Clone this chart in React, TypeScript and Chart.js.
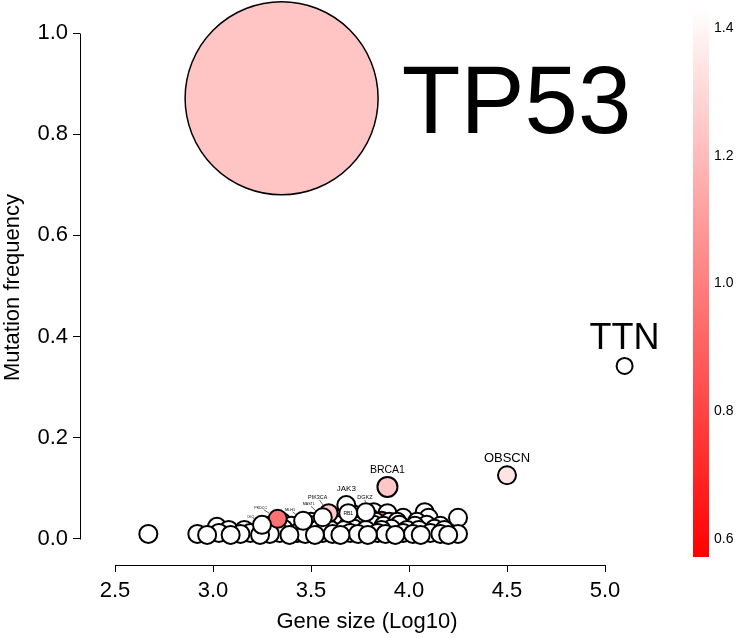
import React, { useEffect, useRef } from "react";
import { Chart, registerables } from "chart.js";

Chart.register(...registerables);

const FONT = "'Liberation Sans', Arial, Helvetica, sans-serif";

// ---- axes / colour scale ----
const xTicks = [2.5, 3.0, 3.5, 4.0, 4.5, 5.0];
const yTicks = [0.0, 0.2, 0.4, 0.6, 0.8, 1.0];
const xLimits = [2.3214, 5.25];
const yLimits = [-0.0514, 1.0455];
const colorTicks = [0.6, 0.8, 1.0, 1.2, 1.4];
const colorRange = [0.57, 1.43];

// ---- labelled genes ----
const labelledGenes = ["TP53", "TTN", "OBSCN", "BRCA1", "JAK3", "RB1", "DGKZ", "PIK3CA", "MASTL", "MLH1", "PKDCC", "DKC1"];
const labelledGeneSize = [3.35, 5.1, 4.5, 3.89, 3.68, 3.69, 3.78, 3.59, 3.56, 3.46, 3.33, 3.25];
const labelledMutFreq = [0.871, 0.342, 0.126, 0.103, 0.067, 0.051, 0.053, 0.051, 0.043, 0.036, 0.04, 0.028];
const labelledColorValue = [1.23, 1.43, 1.34, 1.24, 1.43, 1.43, 1.43, 1.24, 1.43, 1.43, 0.95, 1.43];

// ---- unlabelled genes ----
const otherGeneSize = [
  2.67, 2.92, 2.97, 3.03, 3.09, 3.14, 3.19, 3.24, 3.29, 3.34, 3.39, 3.43, 3.47, 3.52, 3.56,
  3.61, 3.65, 3.70, 3.74, 3.79, 3.84, 3.88, 3.93, 3.97, 4.02, 4.06, 4.11, 4.16, 4.20, 4.25,
  3.02, 3.08, 3.16, 3.30, 3.36, 3.45, 3.54, 3.60, 3.67, 3.72, 3.78, 3.86, 3.91, 3.99, 4.05, 4.13, 4.18,
  3.27, 3.31, 3.40, 3.49, 3.58, 3.63, 3.69, 3.74, 3.82, 3.87, 3.95, 4.03, 4.09, 4.16,
  3.35, 3.50, 3.55, 3.66, 3.76, 3.83, 3.86, 3.90, 3.94, 4.04,
  3.62, 3.73, 3.80, 3.97, 4.10, 4.25,
  3.71, 3.82, 3.89, 4.08,
];
const otherMutFreq = [
  0.010, 0.010, 0.008, 0.012, 0.008, 0.010, 0.012, 0.008, 0.010, 0.012, 0.008, 0.012, 0.010, 0.008, 0.012,
  0.010, 0.008, 0.012, 0.010, 0.008, 0.012, 0.010, 0.008, 0.012, 0.010, 0.008, 0.012, 0.010, 0.008, 0.010,
  0.024, 0.018, 0.018, 0.018, 0.020, 0.018, 0.020, 0.018, 0.018, 0.020, 0.018, 0.018, 0.020, 0.018, 0.018, 0.020, 0.018,
  0.026, 0.028, 0.026, 0.028, 0.026, 0.028, 0.026, 0.026, 0.028, 0.026, 0.028, 0.026, 0.028, 0.026,
  0.034, 0.034, 0.034, 0.034, 0.034, 0.034, 0.036, 0.034, 0.034, 0.034,
  0.042, 0.042, 0.042, 0.042, 0.042, 0.042,
  0.050, 0.053, 0.051, 0.053,
];
const otherColorValue = [
  1.43, 1.43, 1.43, 1.43, 1.43, 1.43, 1.43, 1.43, 1.43, 1.43, 1.43, 1.43, 1.43, 1.43, 1.43,
  1.43, 1.43, 1.43, 1.43, 1.43, 1.43, 1.43, 1.43, 1.43, 1.43, 1.43, 1.43, 1.43, 1.43, 1.43,
  1.43, 1.43, 1.43, 1.43, 1.43, 1.43, 1.43, 1.43, 1.43, 1.43, 1.43, 1.43, 1.43, 1.43, 1.43, 1.43, 1.43,
  1.43, 1.43, 1.43, 1.43, 1.43, 1.43, 1.43, 1.43, 1.43, 1.43, 1.43, 1.43, 1.43, 1.43,
  1.43, 1.43, 1.43, 1.43, 1.43, 1.43, 0.91, 1.43, 1.43, 1.43,
  1.43, 1.43, 1.43, 1.43, 1.43, 1.43,
  1.43, 1.43, 1.43, 1.43,
];

// ---- styles ----
const defaultRadius = 9;
const radiusByGene: Record<string, number> = { TP53: 96.5, TTN: 8, OBSCN: 9, BRCA1: 10 };
const borderByGene: Record<string, number> = { TP53: 1.5 };
const labelStyle: Record<string, any> = {
  TP53: { size: 96, mode: "right", gap: 23 },
  TTN: { size: 36, mode: "above", gap: 8 },
  OBSCN: { size: 13, mode: "above", gap: 3 },
  BRCA1: { size: 10.5, mode: "above", gap: 3 },
  JAK3: { size: 8, mode: "above", gap: 4 },
  RB1: { size: 5, mode: "center" },
  DGKZ: { size: 5.5, mode: "leader", dx: -1, dy: -15 },
  PIK3CA: { size: 5.4, mode: "leader", dx: -11, dy: -16 },
  MASTL: { size: 3.6, mode: "leader", dx: -14, dy: -13 },
  MLH1: { size: 3.8, mode: "leader", dx: -13, dy: -11 },
  PKDCC: { size: 3.7, mode: "leader", dx: -17, dy: -11 },
  DKC1: { size: 2.6, mode: "leader", dx: -11, dy: -8 },
};

function colorFor(v: number) {
  let t = (v - colorRange[0]) / (colorRange[1] - colorRange[0]);
  t = Math.max(0, Math.min(1, t));
  const c = Math.round(255 * t);
  return `rgb(255,${c},${c})`;
}

type Pt = { x: number; y: number; r: number; name: string; c: number };

function sortDesc(pts: Pt[]) {
  return pts
    .map((p, i) => ({ p, i }))
    .sort((a, b) => b.p.y - a.p.y || a.i - b.i)
    .map((o) => o.p);
}

function buildPoints(): Pt[] {
  const others: Pt[] = otherGeneSize.map((x, i) => ({
    x,
    y: otherMutFreq[i],
    r: defaultRadius,
    name: "",
    c: otherColorValue[i],
  }));
  const labelled: Pt[] = labelledGenes.map((g, i) => ({
    x: labelledGeneSize[i],
    y: labelledMutFreq[i],
    r: radiusByGene[g] ?? defaultRadius,
    name: g,
    c: labelledColorValue[i],
  }));
  // unlabelled cloud first (higher rows first), labelled genes on top
  return [...sortDesc(others), ...sortDesc(labelled)];
}

const axisLinePlugin = {
  id: "rAxisLines",
  afterDraw(chart: any) {
    const { ctx, chartArea, scales } = chart;
    ctx.save();
    ctx.strokeStyle = "#000";
    ctx.lineWidth = 1;
    const xs = scales.x;
    const ys = scales.y;
    const yb = Math.round(chartArea.bottom) + 0.5;
    ctx.beginPath();
    ctx.moveTo(Math.round(xs.getPixelForValue(xTicks[0])) + 0.5, yb);
    ctx.lineTo(Math.round(xs.getPixelForValue(xTicks[xTicks.length - 1])) + 0.5, yb);
    const xl = Math.round(chartArea.left) + 0.5;
    ctx.moveTo(xl, Math.round(ys.getPixelForValue(yTicks[0])) + 0.5);
    ctx.lineTo(xl, Math.round(ys.getPixelForValue(yTicks[yTicks.length - 1])) + 0.5);
    ctx.stroke();
    ctx.restore();
  },
};

const labelPlugin = {
  id: "geneLabels",
  afterDatasetsDraw(chart: any) {
    const ctx = chart.ctx;
    const meta = chart.getDatasetMeta(0);
    const data = chart.data.datasets[0].data as Pt[];
    ctx.save();
    ctx.fillStyle = "#000";
    ctx.strokeStyle = "#000";
    meta.data.forEach((el: any, i: number) => {
      const p = data[i];
      if (!p.name) return;
      const st = labelStyle[p.name];
      if (!st) return;
      const cx = el.x;
      const cy = el.y;
      const bw = borderByGene[p.name] ?? 2;
      const outer = p.r + bw / 2;
      ctx.font = `${st.size}px ${FONT}`;
      if (st.mode === "right") {
        ctx.textAlign = "left";
        ctx.textBaseline = "alphabetic";
        ctx.fillText(p.name, cx + outer + st.gap, cy + 0.358 * st.size);
      } else if (st.mode === "above") {
        ctx.textAlign = "center";
        ctx.textBaseline = "alphabetic";
        ctx.fillText(p.name, cx, cy - outer - st.gap);
      } else if (st.mode === "center") {
        ctx.textAlign = "center";
        ctx.textBaseline = "middle";
        ctx.fillText(p.name, cx, cy);
      } else {
        const tx = cx + st.dx;
        const ty = cy + st.dy;
        ctx.textAlign = "center";
        ctx.textBaseline = "middle";
        ctx.fillText(p.name, tx, ty);
        const w = ctx.measureText(p.name).width / 2 + 0.5;
        const h = st.size * 0.4 + 0.5;
        const vx = cx - tx;
        const vy = cy - ty;
        const len = Math.hypot(vx, vy);
        const s = Math.min(w / Math.abs(vx || 1e-6), h / Math.abs(vy || 1e-6));
        const sx = tx + vx * s;
        const sy = ty + vy * s;
        const ex = cx - (vx / len) * outer;
        const ey = cy - (vy / len) * outer;
        if (Math.hypot(ex - tx, ey - ty) > Math.hypot(sx - tx, sy - ty)) {
          ctx.lineWidth = 0.6;
          ctx.beginPath();
          ctx.moveTo(sx, sy);
          ctx.lineTo(ex, ey);
          ctx.stroke();
        }
      }
    });
    ctx.restore();
  },
};

const colorBarPlugin = {
  id: "colorBar",
  afterDraw(chart: any) {
    const ctx = chart.ctx;
    const left = 693;
    const width = 16;
    const top = 8;
    const bottom = 557;
    ctx.save();
    const g = ctx.createLinearGradient(0, top, 0, bottom);
    g.addColorStop(0, colorFor(colorRange[1]));
    g.addColorStop(1, colorFor(colorRange[0]));
    ctx.fillStyle = g;
    ctx.fillRect(left, top, width, bottom - top);
    ctx.fillStyle = "#000";
    ctx.font = `14px ${FONT}`;
    ctx.textAlign = "left";
    ctx.textBaseline = "middle";
    colorTicks.forEach((v) => {
      const y = bottom - ((v - colorRange[0]) / (colorRange[1] - colorRange[0])) * (bottom - top);
      ctx.fillText(v.toFixed(1), 714, y + 1);
    });
    ctx.restore();
  },
};

export default function App() {
  const ref = useRef<HTMLCanvasElement>(null);
  useEffect(() => {
    const canvas = ref.current;
    if (!canvas) return;
    const pts = buildPoints();
    const chart = new Chart(canvas, {
      type: "bubble",
      data: {
        datasets: [
          {
            data: pts as any,
            backgroundColor: pts.map((p) => colorFor(p.c)),
            borderColor: "#000",
            borderWidth: pts.map((p) => borderByGene[p.name] ?? 2),
            clip: false as any,
          },
        ],
      },
      options: {
        animation: false,
        responsive: false,
        devicePixelRatio: 1,
        events: [],
        layout: { autoPadding: false, padding: { left: 0, top: 10, right: 86, bottom: 0 } },
        plugins: { legend: { display: false }, tooltip: { enabled: false } },
        scales: {
          x: {
            type: "linear",
            min: xLimits[0],
            max: xLimits[1],
            afterBuildTicks: (s: any) => {
              s.ticks = xTicks.map((v) => ({ value: v }));
            },
            afterFit: (s: any) => {
              s.height = 73;
              s.paddingLeft = 0;
              s.paddingRight = 0;
            },
            border: { display: false },
            grid: { drawOnChartArea: false, drawTicks: true, tickLength: 7, color: "#000", lineWidth: 1 },
            ticks: {
              font: { family: FONT, size: 22 },
              color: "#000",
              padding: 6,
              maxRotation: 0,
              autoSkip: false,
              callback: (v: any) => Number(v).toFixed(1),
            },
            title: {
              display: true,
              text: "Gene size (Log10)",
              font: { family: FONT, size: 22 },
              color: "#000",
              padding: { top: 0, bottom: 3 },
            },
          },
          y: {
            type: "linear",
            min: yLimits[0],
            max: yLimits[1],
            afterBuildTicks: (s: any) => {
              s.ticks = yTicks.map((v) => ({ value: v }));
            },
            afterFit: (s: any) => {
              s.width = 80;
              s.paddingTop = 0;
              s.paddingBottom = 0;
            },
            border: { display: false },
            grid: { drawOnChartArea: false, drawTicks: true, tickLength: 7, color: "#000", lineWidth: 1 },
            ticks: {
              font: { family: FONT, size: 22 },
              color: "#000",
              padding: 5,
              autoSkip: false,
              callback: (v: any) => Number(v).toFixed(1),
            },
            title: {
              display: true,
              text: "Mutation frequency",
              font: { family: FONT, size: 22 },
              color: "#000",
              padding: { top: 0, bottom: 0 },
            },
          },
        },
      },
      plugins: [axisLinePlugin, labelPlugin, colorBarPlugin],
    });
    return () => chart.destroy();
  }, []);
  return (
    <div style={{ position: "absolute", left: 0, top: 0, width: 740, height: 638, background: "#fff" }}>
      <canvas ref={ref} width={740} height={638} style={{ display: "block", width: 740, height: 638 }} />
    </div>
  );
}
